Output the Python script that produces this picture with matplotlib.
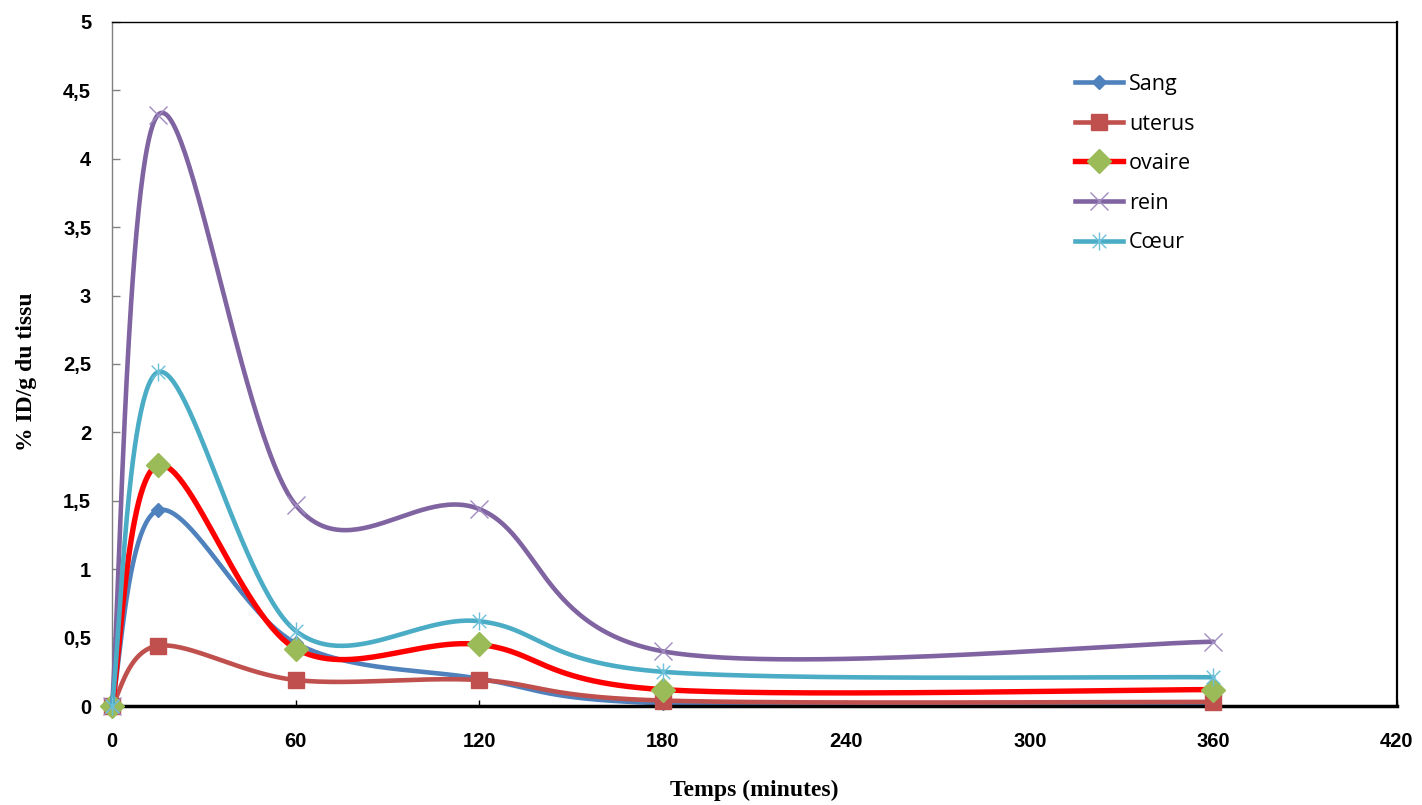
import numpy as np
import matplotlib
matplotlib.use("Agg")
from matplotlib import pyplot as plt
from matplotlib.path import Path

# data
temps = [0, 15, 60, 120, 180, 360]
sang = [0, 1.43, 0.46, 0.20, 0.02, 0.02]
uterus = [0, 0.44, 0.19, 0.19, 0.04, 0.03]
ovaire = [0, 1.76, 0.42, 0.45, 0.12, 0.12]
rein = [0, 4.32, 1.47, 1.44, 0.40, 0.47]
coeur = [0, 2.44, 0.55, 0.62, 0.25, 0.21]

x_ticks = [0, 60, 120, 180, 240, 300, 360, 420]
y_ticks = [0, 0.5, 1, 1.5, 2, 2.5, 3, 3.5, 4, 4.5, 5]
y_ticklabels = ["0", "0,5", "1", "1,5", "2", "2,5", "3", "3,5", "4", "4,5", "5"]


def smooth(xs, ys, n=60):
    # Excel-like smoothed line: catmull-rom as cubic bezier segments
    p = np.column_stack([xs, ys]).astype(float)
    p = np.vstack([p[0], p, p[-1]])
    out = []
    t = np.linspace(0, 1, n)[:, None]
    for i in range(1, len(p) - 2):
        p0, p1, p2, p3 = p[i - 1], p[i], p[i + 1], p[i + 2]
        c1 = p1 + (p2 - p0) / 6
        c2 = p2 - (p3 - p1) / 6
        seg = ((1 - t) ** 3) * p1 + 3 * ((1 - t) ** 2) * t * c1 + 3 * (1 - t) * t ** 2 * c2 + t ** 3 * p2
        out.append(seg)
    out = np.vstack(out)
    return out[:, 0], out[:, 1]


# asterisk marker like excel's "star"
star = Path([(0, -1), (0, 1), (-0.75, -0.75), (0.75, 0.75), (-0.75, 0.75), (0.75, -0.75)],
            [Path.MOVETO, Path.LINETO, Path.MOVETO, Path.LINETO, Path.MOVETO, Path.LINETO])

series = [
    ("Sang", sang, "#4F81BD", 3.3, dict(marker="D", ms=7, mfc="#4F81BD", mec="#4F81BD")),
    ("uterus", uterus, "#C0504D", 3.3, dict(marker="s", ms=11.5, mfc="#C0504D", mec="#C0504D")),
    ("ovaire", ovaire, "#FF0000", 3.9, dict(marker="D", ms=12, mfc="#9BBB59", mec="#9BBB59")),
    ("rein", rein, "#8064A2", 3.3, dict(marker="x", ms=13, mfc="none", mec="#A08CC0", mew=1.0)),
    ("Cœur", coeur, "#4BACC6", 3.3, dict(marker=star, ms=13, mfc="none", mec="#6CC0DA", mew=1.0)),
]

fig = plt.figure(figsize=(14.22, 8.05), dpi=100)
ax = fig.add_axes([112 / 1422, 1 - 706 / 805, (1397 - 112) / 1422, (706 - 22) / 805])

for i, (name, vals, col, lw, mk) in enumerate(series):
    sx, sy = smooth(temps, vals)
    ax.plot(sx, sy, color=col, lw=lw, solid_capstyle="round", zorder=2 + i, clip_on=False)
    ax.plot(temps, vals, ls="none", zorder=2 + i, clip_on=False, **mk)
    # legend proxy
    ax.plot([], [], color=col, lw=lw, label=name, **mk)

ax.set_xlim(0, 420)
ax.set_ylim(0, 5)
ax.set_xticks(x_ticks)
ax.set_xticklabels([str(v) for v in x_ticks])
ax.set_yticks(y_ticks)
ax.set_yticklabels(y_ticklabels)

for lab in ax.get_xticklabels() + ax.get_yticklabels():
    lab.set_fontfamily("Liberation Sans")
    lab.set_fontweight("bold")
    lab.set_fontsize(14.5)

ax.tick_params(axis="y", direction="in", length=6, width=1, color="#808080", pad=15)
ax.tick_params(axis="x", direction="in", length=4, width=1, color="black", pad=19)

ax.spines["left"].set_color("#808080")
ax.spines["left"].set_linewidth(1)
ax.spines["bottom"].set_linewidth(2.5)
ax.spines["right"].set_linewidth(1.6)
ax.spines["top"].set_linewidth(1)

fig.text(754 / 1422, 1 - 790 / 805, "Temps (minutes)", ha="center", va="center",
         family="Liberation Serif", fontweight="bold", fontsize=17)
fig.text(27 / 1422, 1 - 372 / 805, "% ID/g du tissu", ha="center", va="center", rotation=90,
         family="Liberation Serif", fontweight="bold", fontsize=17)

leg = ax.legend(loc="upper left", bbox_to_anchor=((1075 - 112) / 1285, (706 - 74) / 684),
                frameon=False, borderpad=0, borderaxespad=0, handlelength=2.25, handletextpad=0.25,
                labelspacing=0.86, prop={"family": "Open Sans", "size": 15.5}, numpoints=1)

fig.savefig("out.png", dpi=100)
